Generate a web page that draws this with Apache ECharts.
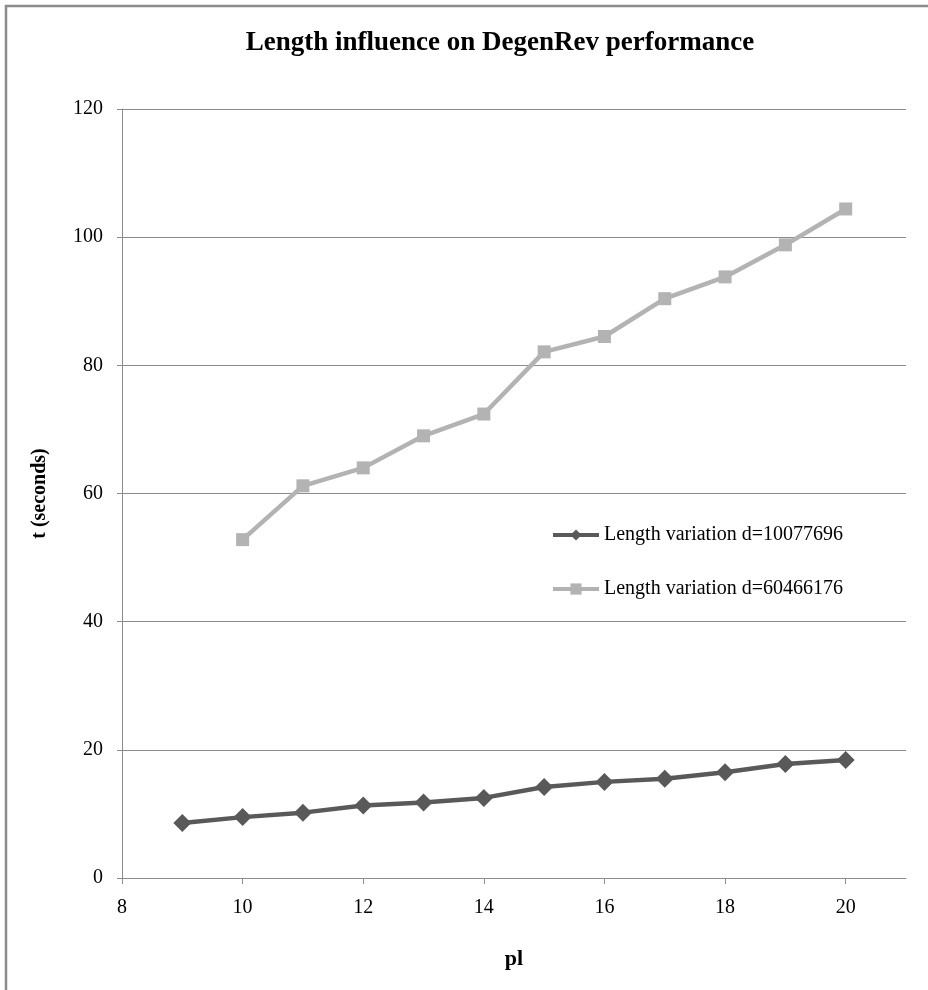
<!DOCTYPE html>
<html>
<head>
<meta charset="utf-8">
<script src="https://cdn.jsdelivr.net/npm/echarts@6/dist/echarts.min.js"></script>
<style>html,body{margin:0;padding:0;background:#fff}#c{width:928px;height:990px}</style>
</head>
<body>
<div id="c"></div>
<script>
var xSmall = [9, 10, 11, 12, 13, 14, 15, 16, 17, 18, 19, 20];
var ySmall = [8.6, 9.5, 10.2, 11.3, 11.8, 12.5, 14.2, 15.0, 15.5, 16.5, 17.8, 18.4];
var xLarge = [10, 11, 12, 13, 14, 15, 16, 17, 18, 19, 20];
var yLarge = [52.8, 61.2, 64.0, 69.0, 72.4, 82.1, 84.5, 90.4, 93.8, 98.8, 104.4];
var xTicks = [8, 10, 12, 14, 16, 18, 20];
var seriesNames = ['Length variation d=10077696', 'Length variation d=60466176'];

var chart = echarts.init(document.getElementById('c'));
var font = 'Liberation Serif';
function pairs(xs, ys) { return xs.map(function (x, i) { return [x, ys[i]]; }); }
chart.setOption({
  animation: false,
  backgroundColor: '#fff',
  title: {
    text: 'Length influence on DegenRev performance',
    left: 495, top: 25, textAlign: 'center',
    textStyle: { fontFamily: font, fontWeight: 'bold', fontSize: 27, color: '#000' }
  },
  graphic: [{
    type: 'rect', shape: { x: 6, y: 6, width: 1000, height: 1000 },
    style: { fill: 'none', stroke: '#8c8c8c', lineWidth: 2.5 }, silent: true
  }],
  legend: {
    orient: 'vertical', left: 551, top: 525, itemGap: 34, padding: 0,
    itemWidth: 46, itemHeight: 14,
    lineStyle: { width: 4 },
    textStyle: { fontFamily: font, fontSize: 20, color: '#000' },
    data: seriesNames
  },
  grid: { left: 122, right: 22, top: 109, bottom: 112, containLabel: false },
  xAxis: {
    type: 'value', min: 8, max: 21, interval: 2,
    name: 'pl', nameLocation: 'middle', nameGap: 70,
    nameTextStyle: { fontFamily: font, fontWeight: 'bold', fontSize: 22, color: '#000' },
    axisLine: { show: true, lineStyle: { color: '#8c8c8c', width: 1 } },
    axisTick: { show: true, length: 6, customValues: xTicks, lineStyle: { color: '#8c8c8c' } },
    axisLabel: { customValues: xTicks, margin: 20, fontFamily: font, fontSize: 20, color: '#000' },
    splitLine: { show: false }
  },
  yAxis: {
    type: 'value', min: 0, max: 120, interval: 20,
    name: 't (seconds)', nameLocation: 'middle', nameGap: 72, nameRotate: 90,
    nameTextStyle: { fontFamily: font, fontWeight: 'bold', fontSize: 20, color: '#000' },
    axisLine: { show: true, lineStyle: { color: '#8c8c8c', width: 1 } },
    axisTick: { show: true, length: 5, lineStyle: { color: '#8c8c8c' } },
    axisLabel: { margin: 19, fontFamily: font, fontSize: 20, color: '#000' },
    splitLine: { show: true, lineStyle: { color: '#8c8c8c', width: 1 } }
  },
  series: [{
    name: seriesNames[0], type: 'line', data: pairs(xSmall, ySmall),
    symbol: 'diamond', symbolSize: 18,
    lineStyle: { color: '#595959', width: 4.5 },
    itemStyle: { color: '#595959' }
  }, {
    name: seriesNames[1], type: 'line', data: pairs(xLarge, yLarge),
    symbol: 'rect', symbolSize: 13,
    lineStyle: { color: '#b3b3b3', width: 4.5 },
    itemStyle: { color: '#b3b3b3' }
  }]
});
</script>
</body>
</html>
